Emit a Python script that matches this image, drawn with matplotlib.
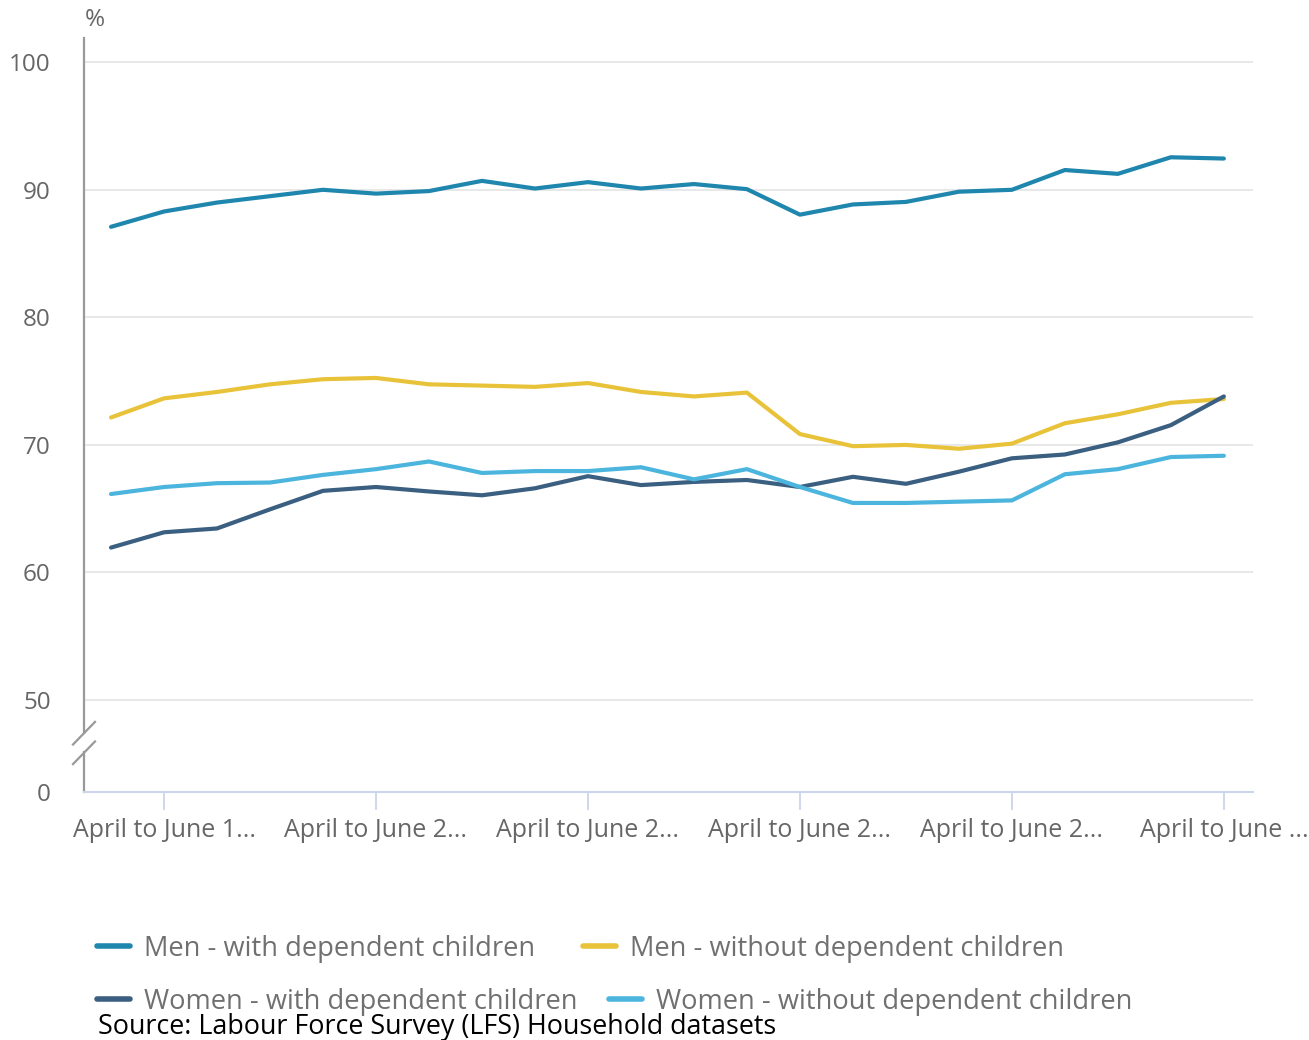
import matplotlib
matplotlib.use("Agg")
import matplotlib.pyplot as plt

plt.rcParams['font.family'] = ['Open Sans', 'DejaVu Sans']

# Data: employment rates (%), April to June each year
periods = [f"April to June {y}" for y in range(1997, 2019)]
men_with = [87.1, 88.3, 89.0, 89.5, 90.0, 89.7, 89.9, 90.7, 90.1, 90.6, 90.1,
            90.45, 90.05, 88.05, 88.85, 89.05, 89.85, 90.0, 91.55, 91.25, 92.55, 92.45]
men_without = [72.15, 73.65, 74.15, 74.75, 75.15, 75.25, 74.75, 74.65, 74.55, 74.85, 74.15,
               73.8, 74.1, 70.85, 69.9, 70.0, 69.7, 70.1, 71.7, 72.4, 73.3, 73.6]
women_with = [61.95, 63.15, 63.45, 64.95, 66.4, 66.7, 66.35, 66.05, 66.6, 67.55, 66.85,
              67.1, 67.25, 66.7, 67.5, 66.95, 67.9, 68.95, 69.25, 70.2, 71.55, 73.8]
women_without = [66.15, 66.7, 67.0, 67.05, 67.65, 68.1, 68.7, 67.8, 67.95, 67.95, 68.25,
                 67.3, 68.1, 66.7, 65.45, 65.45, 65.55, 65.65, 67.7, 68.1, 69.05, 69.15]

series_names = ["Men - with dependent children", "Men - without dependent children",
                "Women - with dependent children", "Women - without dependent children"]
series_colors = ["#1f86ae", "#e8c33a", "#3b5f80", "#4cb5de"]

tick_positions = [1, 5, 9, 13, 17, 21]
tick_labels = ["April to June 1...", "April to June 2...", "April to June 2...",
               "April to June 2...", "April to June 2...", "April to June ..."]

y_ticks = [50, 60, 70, 80, 90, 100]
y_zero = 42.79  # where the broken axis shows 0

W, H = 1309, 1040
fig = plt.figure(figsize=(W / 100, H / 100), dpi=100)
ax = fig.add_axes([84 / W, 1 - 792 / H, (1253 - 84) / W, (792 - 38) / H])

x = list(range(len(periods)))
lines = []
for vals, name, col in zip([men_with, men_without, women_with, women_without],
                           series_names, series_colors):
    ln, = ax.plot(x, vals, color=col, lw=3.0, label=name, solid_joinstyle='round',
                  solid_capstyle='round', zorder=3)
    lines.append(ln)

ax.set_xlim(-0.51, 21.55)
ax.set_ylim(y_zero, 101.9)

# gridlines
for v in y_ticks:
    ax.axhline(v, color='#e6e6e6', lw=1.3, zorder=1)

ax.set_yticks([y_zero] + y_ticks)
ax.set_yticklabels(['0'] + [str(v) for v in y_ticks])
ax.tick_params(axis='y', length=0, pad=24, labelsize=17.5, labelcolor='#666666')

ax.set_xticks(tick_positions)
ax.set_xticklabels(tick_labels)
ax.tick_params(axis='x', length=13, width=1.3, color='#ccd6eb', pad=6,
               labelsize=18, labelcolor='#666666')

for s in ['top', 'right', 'left']:
    ax.spines[s].set_visible(False)
ax.spines['bottom'].set_color('#ccd6eb')
ax.spines['bottom'].set_linewidth(1.5)

# broken left axis
axis_kw = dict(transform=ax.transAxes, color='#999999', lw=1.6, clip_on=False)
ax.plot([0, 0], [1, 0.078], **axis_kw)
ax.plot([0, 0], [0.053, 0], **axis_kw)
dx = 11 / (1253 - 84)
ax.plot([-dx, dx], [0.063, 0.093], **axis_kw)
ax.plot([-dx, dx], [0.037, 0.067], **axis_kw)

fig.text(95 / W, 1 - 20 / H, '%', ha='center', va='center', fontsize=17.5, color='#666666')

# legend rows (flow layout)
leg_kw = dict(loc='center left', frameon=False, fontsize=19.6, labelcolor='#707070',
              handlelength=1.21, handletextpad=0.51, ncol=2,
              borderaxespad=0, borderpad=0)
leg1 = fig.legend(lines[:2], series_names[:2], bbox_to_anchor=(97 / W, 1 - 949 / H),
                  columnspacing=1.76, **leg_kw)
leg2 = fig.legend(lines[2:], series_names[2:], bbox_to_anchor=(97 / W, 1 - 1002 / H),
                  columnspacing=1.18, **leg_kw)
for lg in (leg1, leg2):
    for h in lg.legend_handles:
        h.set_linewidth(4)

fig.text(98 / W, 1 - 1027 / H, 'Source: Labour Force Survey (LFS) Household datasets',
         ha='left', va='center', fontsize=19.4, color='black')

fig.savefig('out.png', dpi=100, facecolor='white')
